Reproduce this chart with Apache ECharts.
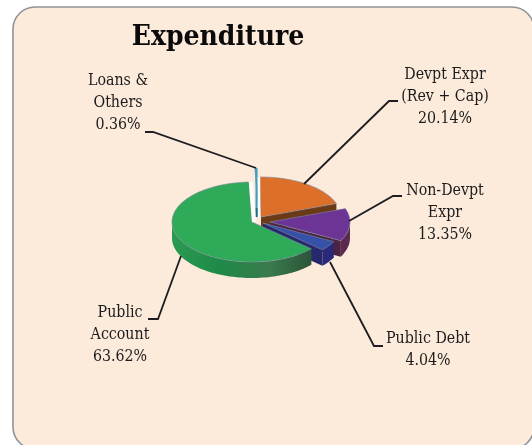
<!DOCTYPE html>
<html><head><meta charset="utf-8">
<style>html,body{margin:0;padding:0;background:#fff}#c{width:532px;height:445px}</style>
<script src="https://cdn.jsdelivr.net/npm/echarts@6/dist/echarts.min.js"></script>
</head><body><div id="c"></div>
<script>
const categories = ['Devpt Expr (Rev + Cap)', 'Non-Devpt Expr', 'Public Debt', 'Public Account', 'Loans & Others'];
const values = [20.14, 13.35, 4.04, 63.62, 0.36];
const labelLines = [['Devpt Expr', '(Rev + Cap)', '20.14%'], ['Non-Devpt', 'Expr', '13.35%'], ['Public Debt', '4.04%'], ['Public', 'Account', '63.62%'], ['Loans &', 'Others', '0.36%']];

const FONT = '"DejaVu Serif Condensed","DejaVu Serif",serif';
const looks = [
  {cx:261, cy:217, top:'#dc6f2a', side:'#8a4a1e', cut:'#6b3a18', depth:14},
  {cx:270, cy:222, top:'#6c3595', side:'#5b2a4e', cut:'#4a2440', depth:16},
  {cx:263, cy:223, top:'#3552a8', side:'#2b2a78', cut:'#28286e', depth:16},
  {cx:252, cy:222, top:'#2faa58', side:null, cut:'#2d5a3c', depth:16},
  {cx:258, cy:208, top:'#45a5c8', side:'#1f6f8a', cut:'#1f6f8a', depth:9}
];
const RX = 80, RY = 40, START = -1;
const drawOrder = [4, 0, 1, 2, 3];
const total = values.reduce((a, b) => a + b, 0);
const starts = [];
values.reduce((s, v, i) => { starts[i] = s; return s + v / total * 360; }, START);

function pt(L, deg, dy) {
  const r = deg * Math.PI / 180;
  return [L.cx + RX * Math.sin(r), L.cy - RY * Math.cos(r) + (dy || 0)];
}
function arc(L, a, b, dy) {
  const n = Math.max(2, Math.ceil(Math.abs(b - a) / 2)), out = [];
  for (let i = 0; i <= n; i++) out.push(pt(L, a + (b - a) * i / n, dy));
  return out;
}
const greenSide = {type:'linear', x:0, y:0, x2:1, y2:0, colorStops:[
  {offset:0, color:'#2a9a52'}, {offset:.35, color:'#1f8a48'}, {offset:.7, color:'#3a7a4c'}, {offset:1, color:'#2b5538'}]};

function renderItem(params, api) {
  const i = drawOrder[params.dataIndex];
  const v = api.value(0), L = looks[i];
  const a = starts[i], b = a + v / total * 360;
  const kids = [];
  const edge = {stroke:'#7f8aa0', lineWidth:.6};
  const lo = Math.max(a, 90), hi = Math.min(b, 270);
  if (b > 40 && b < 180) {
    const e0 = pt(L, b), e1 = pt(L, b, L.depth);
    kids.push({type:'polygon', shape:{points:[[L.cx, L.cy], e0, e1, [L.cx, L.cy + L.depth]]}, style:{fill:L.cut}});
  }
  if (hi > lo) {
    kids.push({type:'polygon', shape:{points:arc(L, lo, hi, 0).concat(arc(L, hi, lo, L.depth))}, style:{fill:L.side || greenSide}});
  }
  if (i === 4) {
    kids.push({type:'polygon', shape:{points:[[L.cx - 2.5, L.cy], [L.cx, L.cy], [L.cx, L.cy + L.depth], [L.cx - 2.5, L.cy + L.depth]]}, style:{fill:L.side}});
  }
  const top = [[L.cx, L.cy]].concat(arc(L, a, b, 0));
  kids.push({type:'polygon', shape:{points:top}, style:Object.assign({fill:L.top}, edge)});
  if (i === 3) {
    kids.push({type:'line', shape:{x1:L.cx + 2, y1:L.cy, x2:pt(L, b)[0] + 2, y2:pt(L, b)[1]}, style:{stroke:'#fdfdfb', lineWidth:4}});
  }
  if (i === 0) {
    kids.push({type:'line', shape:{x1:L.cx - 2, y1:L.cy, x2:L.cx - 2, y2:L.cy - RY}, style:{stroke:'#fdfdfb', lineWidth:2.5}});
  }
  if (i === 4) {
    kids.push({type:'line', shape:{x1:L.cx - 1.5, y1:L.cy, x2:L.cx - 1.5, y2:L.cy - RY}, style:{stroke:'#3c9fc4', lineWidth:2}});
  }
  return {type:'group', children:kids};
}

const leaders = [
  [[304,184],[389,101],[398,101]],
  [[349,221],[393,196],[402,196]],
  [[330,262],[374,346],[383,346]],
  [[181,256],[158,319],[148,319]],
  [[256,168],[153,132],[145,132]]
];
const labelCentres = [[445,75],[445,191],[428,339],[120,313],[118,81]];
const LINE = 22;

const graphics = [{
  type:'rect', z:-10, shape:{x:13, y:7, width:521, height:442, r:22},
  style:{fill:'#fceadb', stroke:'#8f9499', lineWidth:1.6}
}];
leaders.forEach(p => graphics.push({type:'polyline', z:5, shape:{points:p}, style:{fill:null, stroke:'#1d1d22', lineWidth:1.8}}));
labelLines.forEach((lines, i) => lines.forEach((t, k) => graphics.push({
  type:'text', z:6, x:labelCentres[i][0], y:labelCentres[i][1] + k * LINE,
  style:{text:t, font:'15.8px ' + FONT, fill:'#1c1c1c', textAlign:'center', textVerticalAlign:'middle'}
})));
graphics.push({type:'text', z:6, x:218, y:38, style:{text:'Expenditure', font:'bold 28px ' + FONT, fill:'#0a0a0a', textAlign:'center', textVerticalAlign:'middle'}});

const chart = echarts.init(document.getElementById('c'), null, {renderer:'canvas'});
chart.setOption({
  animation:false,
  graphic:{elements:graphics},
  series:[{
    type:'custom', coordinateSystem:'none', renderItem:renderItem, z:3, silent:true,
    data:drawOrder.map(i => ({name:categories[i], value:values[i]}))
  }]
});
</script></body></html>
